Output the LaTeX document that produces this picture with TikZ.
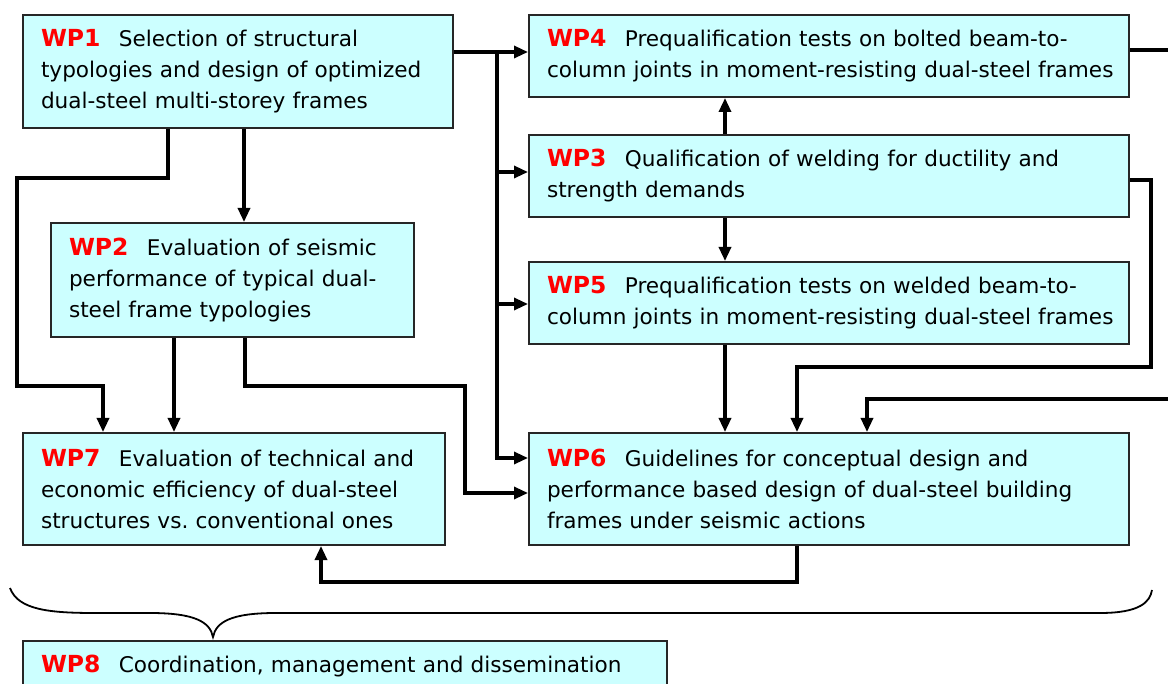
\documentclass[tikz,border=0pt]{standalone}
\usepackage{fontspec}
\setmainfont{DejaVu Sans}
\usetikzlibrary{arrows.meta}
\frenchspacing
\definecolor{boxfill}{HTML}{CCFFFF}
\definecolor{wpred}{HTML}{FF0000}
\newcommand{\wpl}[1]{{\color{wpred}\fontsize{23.5}{31}\selectfont\bfseries #1}\hspace{0.85em}}
\begin{document}
\begin{tikzpicture}[x=1pt,y=-1pt,
  wpbox/.style={draw=black!85, line width=2pt, fill=boxfill, anchor=north west,
    inner xsep=18pt, inner ysep=0pt, align=left,
    font=\fontsize{21.6}{31}\selectfont},
  ln/.style={line width=3.2pt, line join=miter},
  arr/.style={ln, -{Triangle[length=14pt,width=12pt]}}]
\useasboundingbox (0,0) rectangle (1168,684);
\clip (0,0) rectangle (1168,684);
% boxes
\node[wpbox, minimum width=430pt, minimum height=113pt, text width=394pt] (wp1) at (22,14)
  {\mbox{\wpl{WP1}Selection of structural}\\\mbox{typologies and design of optimized}\\\mbox{dual-steel multi-storey frames}};
\node[wpbox, minimum width=363pt, minimum height=114pt, text width=327pt] (wp2) at (50,222)
  {\mbox{\wpl{WP2}Evaluation of seismic}\\\mbox{performance of typical dual-}\\\mbox{steel frame typologies}};
\node[wpbox, minimum width=422pt, minimum height=112pt, text width=386pt] (wp7) at (22,432)
  {\mbox{\wpl{WP7}Evaluation of technical and}\\\mbox{economic efficiency of dual-steel}\\\mbox{structures vs. conventional ones}};
\node[wpbox, minimum width=600pt, minimum height=82pt, text width=564pt] (wp4) at (528,14)
  {\mbox{\wpl{WP4}Prequalification tests on bolted beam-to-}\\\mbox{column joints in moment-resisting dual-steel frames}};
\node[wpbox, minimum width=600pt, minimum height=82pt, text width=564pt] (wp3) at (528,134)
  {\mbox{\wpl{WP3}Qualification of welding for ductility and}\\\mbox{strength demands}};
\node[wpbox, minimum width=600pt, minimum height=82pt, text width=564pt] (wp5) at (528,261)
  {\mbox{\wpl{WP5}Prequalification tests on welded beam-to-}\\\mbox{column joints in moment-resisting dual-steel frames}};
\node[wpbox, minimum width=600pt, minimum height=112pt, text width=564pt] (wp6) at (528,432)
  {\mbox{\wpl{WP6}Guidelines for conceptual design and}\\\mbox{performance based design of dual-steel building}\\\mbox{frames under seismic actions}};
\node[wpbox, minimum width=644pt, minimum height=50pt, text width=608pt] (wp8) at (22,640)
  {\mbox{\wpl{WP8}Coordination, management and dissemination}};
% connectors
\coordinate (trunk) at (497,52);
\draw[arr] (wp1.east |- 0,52) -- (wp4.west |- 0,52);
\draw[ln] (trunk) -- (497,458);
\draw[arr] (trunk |- 0,172) -- (wp3.west |- 0,172);
\draw[arr] (trunk |- 0,304) -- (wp5.west |- 0,304);
\draw[arr] (495.4,458) -- (wp6.west |- 0,458);
\draw[arr] (wp1.south -| 244,0) -- (wp2.north -| 244,0);
\draw[arr] (wp1.south -| 168,0) -- (168,178) -- (17,178) -- (17,386) -- (103,386) -- (wp7.north -| 103,0);
\draw[arr] (wp2.south -| 174,0) -- (wp7.north -| 174,0);
\draw[arr] (wp2.south -| 245,0) -- (245,386) -- (465,386) -- (465,493) -- (wp6.west |- 0,493);
\draw[arr] (wp3.north -| 725,0) -- (wp4.south -| 725,0);
\draw[arr] (wp3.south -| 725,0) -- (wp5.north -| 725,0);
\draw[arr] (wp5.south -| 725,0) -- (wp6.north -| 725,0);
\draw[arr] (wp3.east |- 0,180) -- (1151,180) -- (1151,367) -- (797,367) -- (wp6.north -| 797,0);
\draw[arr] (wp6.south -| 797,0) -- (797,582) -- (321,582) -- (wp7.south -| 321,0);
\coordinate (outA) at (1172,50);
\coordinate (outB) at (1172,399);
\draw[ln] (wp4.east |- 0,50) -- (outA);
\draw[arr] (outB) -- (867,399) -- (wp6.north -| 867,0);
% brace
\draw[line width=1.8pt] (10,588) .. controls (18,610) and (50,613) .. (95,613)
  -- (150,613) .. controls (195,613) and (210,622) .. (213,637)
  .. controls (216,622) and (231,613) .. (276,613)
  -- (1100,613) .. controls (1140,613) and (1150,602) .. (1152,590);
\end{tikzpicture}
\end{document}
